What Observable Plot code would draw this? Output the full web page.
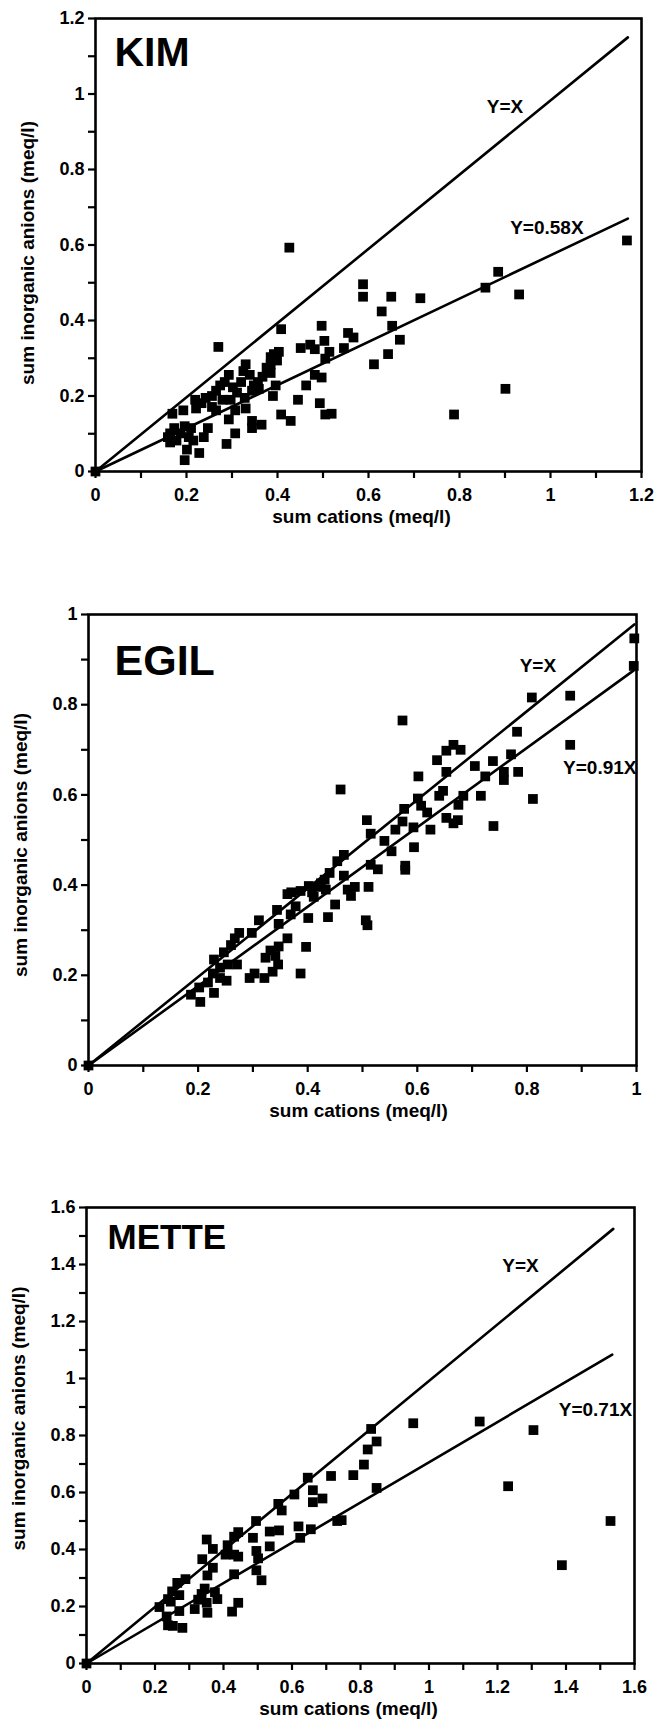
<!DOCTYPE html>
<html><head><meta charset="utf-8">
<script src="https://cdn.jsdelivr.net/npm/d3@7"></script>
<script src="https://cdn.jsdelivr.net/npm/@observablehq/plot@0.6"></script>
<style>
body{margin:0;background:#fff;}
#wrap{position:relative;width:658px;height:1725px;background:#fff;}
#wrap svg{position:absolute;left:0;}
</style></head><body><div id="wrap"></div>
<script>
// ---------- data ----------
const kimPoints = [[0,0],[1.168,0.612],[0.426,0.593],[0.588,0.496],[0.588,0.463],[0.650,0.463],[0.714,0.459],[0.885,0.529],[0.857,0.487],[0.931,0.469],[0.629,0.424],[0.652,0.386],[0.669,0.349],[0.643,0.311],[0.612,0.284],[0.901,0.219],[0.788,0.151],[0.497,0.386],[0.503,0.346],[0.514,0.317],[0.555,0.367],[0.567,0.355],[0.546,0.327],[0.505,0.299],[0.451,0.327],[0.472,0.336],[0.482,0.324],[0.482,0.256],[0.497,0.249],[0.463,0.228],[0.445,0.190],[0.493,0.181],[0.505,0.151],[0.519,0.153],[0.429,0.134],[0.408,0.151],[0.408,0.377],[0.403,0.317],[0.392,0.311],[0.385,0.303],[0.399,0.294],[0.385,0.284],[0.376,0.275],[0.385,0.261],[0.396,0.228],[0.390,0.200],[0.367,0.251],[0.357,0.237],[0.348,0.228],[0.344,0.214],[0.359,0.219],[0.330,0.284],[0.325,0.266],[0.339,0.256],[0.320,0.237],[0.311,0.209],[0.302,0.223],[0.297,0.190],[0.328,0.195],[0.330,0.167],[0.307,0.162],[0.293,0.138],[0.307,0.101],[0.344,0.134],[0.344,0.115],[0.365,0.124],[0.288,0.073],[0.270,0.330],[0.293,0.256],[0.284,0.237],[0.274,0.228],[0.265,0.214],[0.256,0.200],[0.279,0.190],[0.256,0.171],[0.242,0.195],[0.233,0.181],[0.265,0.162],[0.247,0.115],[0.238,0.091],[0.228,0.049],[0.219,0.190],[0.221,0.167],[0.193,0.162],[0.196,0.120],[0.210,0.115],[0.205,0.091],[0.215,0.082],[0.201,0.058],[0.196,0.030],[0.169,0.153],[0.173,0.115],[0.164,0.101],[0.178,0.082],[0.164,0.077],[0.187,0.101],[0.159,0.091]];
const egilPoints = [[0,0],[0.996,0.947],[0.995,0.886],[0.879,0.820],[0.809,0.816],[0.879,0.711],[0.573,0.765],[0.782,0.740],[0.771,0.690],[0.784,0.651],[0.758,0.651],[0.758,0.633],[0.738,0.675],[0.705,0.664],[0.724,0.641],[0.716,0.598],[0.811,0.591],[0.739,0.531],[0.666,0.711],[0.679,0.700],[0.653,0.698],[0.653,0.651],[0.636,0.677],[0.602,0.641],[0.647,0.609],[0.640,0.598],[0.684,0.598],[0.675,0.578],[0.653,0.549],[0.666,0.537],[0.674,0.544],[0.601,0.592],[0.607,0.576],[0.618,0.561],[0.624,0.523],[0.593,0.528],[0.594,0.484],[0.576,0.569],[0.573,0.541],[0.560,0.523],[0.553,0.475],[0.578,0.443],[0.578,0.434],[0.540,0.498],[0.508,0.544],[0.515,0.514],[0.515,0.445],[0.528,0.435],[0.511,0.396],[0.506,0.322],[0.509,0.311],[0.460,0.612],[0.466,0.467],[0.454,0.453],[0.440,0.427],[0.466,0.421],[0.473,0.390],[0.486,0.396],[0.479,0.376],[0.450,0.357],[0.437,0.329],[0.431,0.412],[0.424,0.404],[0.416,0.396],[0.433,0.390],[0.408,0.384],[0.402,0.398],[0.411,0.374],[0.387,0.387],[0.370,0.384],[0.363,0.380],[0.378,0.353],[0.369,0.335],[0.401,0.327],[0.397,0.263],[0.387,0.204],[0.344,0.345],[0.347,0.314],[0.363,0.282],[0.347,0.264],[0.341,0.243],[0.346,0.224],[0.332,0.255],[0.323,0.239],[0.336,0.208],[0.321,0.194],[0.311,0.322],[0.298,0.294],[0.303,0.204],[0.294,0.194],[0.275,0.294],[0.267,0.282],[0.260,0.267],[0.254,0.224],[0.271,0.224],[0.247,0.251],[0.240,0.217],[0.252,0.188],[0.229,0.235],[0.227,0.204],[0.218,0.184],[0.229,0.161],[0.202,0.173],[0.187,0.157],[0.204,0.141],[0.240,0.194]];
const mettePoints = [[0,0],[1.530,0.500],[1.388,0.345],[1.305,0.819],[1.231,0.622],[1.148,0.849],[0.954,0.843],[0.831,0.823],[0.847,0.779],[0.821,0.751],[0.810,0.698],[0.847,0.616],[0.779,0.661],[0.714,0.658],[0.732,0.500],[0.745,0.503],[0.646,0.652],[0.661,0.608],[0.661,0.566],[0.689,0.579],[0.655,0.471],[0.624,0.441],[0.619,0.481],[0.607,0.593],[0.560,0.560],[0.570,0.537],[0.562,0.467],[0.535,0.463],[0.535,0.411],[0.495,0.500],[0.486,0.441],[0.496,0.395],[0.501,0.369],[0.496,0.327],[0.511,0.292],[0.443,0.461],[0.431,0.445],[0.431,0.382],[0.412,0.415],[0.406,0.382],[0.443,0.375],[0.431,0.313],[0.443,0.213],[0.425,0.182],[0.351,0.435],[0.369,0.402],[0.338,0.366],[0.369,0.336],[0.353,0.309],[0.345,0.263],[0.336,0.244],[0.375,0.250],[0.382,0.226],[0.351,0.213],[0.353,0.178],[0.326,0.224],[0.316,0.191],[0.289,0.296],[0.265,0.283],[0.271,0.240],[0.250,0.253],[0.238,0.226],[0.271,0.184],[0.280,0.125],[0.238,0.134],[0.252,0.132],[0.213,0.198],[0.234,0.165],[0.246,0.217]];

// fitted-line end points (x, y) as drawn: [Y=X, Y=bX]
const kimLineEnds = [[1.17, 1.15], [1.17, 0.67]];
const egilLineEnds = [[0.996, 0.978], [0.995, 0.876]];
const metteLineEnds = [[1.538, 1.525], [1.535, 1.084]];

// line annotations: [text, x, y]
const kimNotes = [["Y=X", 0.90, 0.965], ["Y=0.58X", 0.992, 0.644]];
const egilNotes = [["Y=X", 0.82, 0.886], ["Y=0.91X", 0.933, 0.659]];
const metteNotes = [["Y=X", 1.267, 1.396], ["Y=0.71X", 1.486, 0.891]];

const panelTitles = ["KIM", "EGIL", "METTE"];
const xLabel = "sum cations (meq/l)";
const yLabel = "sum inorganic anions (meq/l)";

// ticks
const kimTicks = [0,0.1,0.2,0.3,0.4,0.5,0.6,0.7,0.8,0.9,1,1.1,1.2];
const kimTickLabels = ["0","","0.2","","0.4","","0.6","","0.8","","1","","1.2"];
const egilTicks = [0,0.1,0.2,0.3,0.4,0.5,0.6,0.7,0.8,0.9,1];
const egilTickLabels = ["0","","0.2","","0.4","","0.6","","0.8","","1"];
const metteTicks = [0,0.1,0.2,0.3,0.4,0.5,0.6,0.7,0.8,0.9,1,1.1,1.2,1.3,1.4,1.5,1.6];
const metteTickLabels = ["0","","0.2","","0.4","","0.6","","0.8","","1","","1.2","","1.4","","1.6"];

// ---------- drawing ----------
const FONT = "'Liberation Sans', Arial, Helvetica, sans-serif";
const panels = [
  {title: panelTitles[0], titleSize: 41, tdx: 19, tdy: 18, pts: kimPoints, ends: kimLineEnds, notes: kimNotes, ticks: kimTicks, labels: kimTickLabels,
   top: 0, height: 560, mt: 18, mb: 89, ml: 95, mr: 17, xldx: -7, yldy: 8},
  {title: panelTitles[1], titleSize: 43, tdx: 26, tdy: 30, pts: egilPoints, ends: egilLineEnds, notes: egilNotes, ticks: egilTicks, labels: egilTickLabels,
   top: 560, height: 580, mt: 54, mb: 75, ml: 88, mr: 22, xldx: -4, yldy: 5},
  {title: panelTitles[2], titleSize: 35, tdx: 21, tdy: 17, pts: mettePoints, ends: metteLineEnds, notes: metteNotes, ticks: metteTicks, labels: metteTickLabels,
   top: 1140, height: 585, mt: 67, mb: 62, ml: 86, mr: 24, xldx: -12, yldy: -17}
];

const wrap = document.getElementById("wrap");
for (const p of panels) {
  const dom = [p.ticks[0], p.ticks[p.ticks.length - 1]];
  const fmt = d => p.labels[p.ticks.indexOf(d)];
  const lines = p.ends.map((e, k) => [{x: 0, y: 0, k}, {x: e[0], y: e[1], k}]).flat();
  const svg = Plot.plot({
    width: 658,
    height: p.height,
    marginTop: p.mt, marginBottom: p.mb, marginLeft: p.ml, marginRight: p.mr,
    style: {fontFamily: FONT, fontWeight: "bold", fontSize: "18px", background: "transparent", color: "#000"},
    x: {domain: dom, nice: false},
    y: {domain: dom, nice: false},
    marks: [
      Plot.axisX(p.ticks, {tickSize: 7, tickPadding: 10, tickFormat: fmt, label: null, strokeWidth: 2.2, fontSize: 18, fontWeight: "bold"}),
      Plot.axisY(p.ticks, {tickSize: 7, tickPadding: 4, tickFormat: fmt, label: null, strokeWidth: 2.2, fontSize: 18, fontWeight: "bold"}),
      Plot.line(lines, {x: "x", y: "y", z: "k", stroke: "#000", strokeWidth: 2.6}),
      Plot.dot(p.pts, {x: d => d[0], y: d => d[1], symbol: "square", r: 5.5, fill: "#000", stroke: null}),
      Plot.frame({stroke: "#000", strokeWidth: 2.6}),
      Plot.text(p.notes, {x: d => d[1], y: d => d[2], text: d => d[0], fontSize: 19, fontWeight: "bold", fill: "#000"}),
      Plot.text([p.title], {frameAnchor: "top-left", text: d => d, dx: p.tdx, dy: p.tdy, textAnchor: "start", lineAnchor: "top", fontSize: p.titleSize, fontWeight: "bold", fill: "#000"}),
      Plot.text([xLabel], {frameAnchor: "bottom", text: d => d, dx: p.xldx, dy: 45, textAnchor: "middle", lineAnchor: "middle", fontSize: 19, fontWeight: "bold", fill: "#000"}),
      Plot.text([yLabel], {frameAnchor: "left", text: d => d, dx: -68, dy: p.yldy, rotate: -90, textAnchor: "middle", lineAnchor: "middle", fontSize: 19, fontWeight: "bold", fill: "#000"})
    ]
  });
  svg.style.top = p.top + "px";
  wrap.appendChild(svg);
}
</script>
</body></html>
